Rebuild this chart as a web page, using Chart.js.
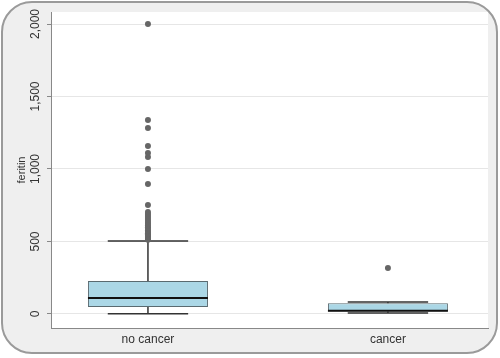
<!DOCTYPE html>
<html>
<head>
<meta charset="utf-8">
<script src="https://cdn.jsdelivr.net/npm/chart.js@4.4.1/dist/chart.umd.min.js"></script>
<style>
  html, body { margin: 0; padding: 0; background: #fff; }
  #wrap { width: 500px; height: 358px; }
</style>
</head>
<body>
<div id="wrap"><canvas id="boxChart"></canvas></div>
<script>
// data
const categories = ['no cancer', 'cancer'];
const q1 = [48, 17];
const median = [110, 22];
const q3 = [228, 74];
const whiskerLo = [2, 7];
const whiskerHi = [503, 83];
const outliersNoCancer = [512, 518, 525, 532, 540, 548, 557, 566, 576, 587, 598, 610, 622, 635, 648, 662, 676, 690, 703, 752, 897, 1000, 1083, 1110, 1159, 1283, 1338, 2000];
const outliersCancer = [317];
const yTicks = [0, 500, 1000, 1500, 2000];

// groups sit at x = 1, 2 on a linear axis so the side margins can differ
const boxData = categories.map((c, i) => ({ x: i + 1, y: [q1[i], q3[i]] }));
const outlierPoints = [
  ...outliersNoCancer.map(v => ({ x: 1, y: v })),
  ...outliersCancer.map(v => ({ x: 2, y: v }))
];

// grey rounded frame + white plot region
const frame = {
  id: 'frame',
  beforeDraw(chart) {
    const { ctx, chartArea: a } = chart;
    ctx.save();
    ctx.beginPath();
    ctx.roundRect(2, 2, 495, 351, 30);
    ctx.fillStyle = '#efefef';
    ctx.fill();
    ctx.lineWidth = 2;
    ctx.strokeStyle = '#9a9a9a';
    ctx.stroke();
    ctx.fillStyle = '#fff';
    ctx.fillRect(a.left, a.top, a.right - a.left, a.bottom - a.top);
    ctx.restore();
  }
};

// whiskers behind the boxes, medians on top
const boxParts = {
  id: 'boxParts',
  beforeDatasetsDraw(chart) {
    const { ctx } = chart;
    const y = chart.scales.y;
    const meta = chart.getDatasetMeta(0);
    ctx.save();
    ctx.strokeStyle = '#333';
    ctx.lineWidth = 1.5;
    meta.data.forEach((bar, i) => {
      const cap = bar.width * 0.335;
      ctx.beginPath();
      ctx.moveTo(bar.x, y.getPixelForValue(whiskerHi[i]));
      ctx.lineTo(bar.x, y.getPixelForValue(q3[i]));
      ctx.moveTo(bar.x, y.getPixelForValue(q1[i]));
      ctx.lineTo(bar.x, y.getPixelForValue(whiskerLo[i]));
      ctx.moveTo(bar.x - cap, y.getPixelForValue(whiskerHi[i]));
      ctx.lineTo(bar.x + cap, y.getPixelForValue(whiskerHi[i]));
      ctx.moveTo(bar.x - cap, y.getPixelForValue(whiskerLo[i]));
      ctx.lineTo(bar.x + cap, y.getPixelForValue(whiskerLo[i]));
      ctx.stroke();
    });
    ctx.restore();
  },
  afterDatasetsDraw(chart) {
    const { ctx } = chart;
    const y = chart.scales.y;
    const meta = chart.getDatasetMeta(0);
    ctx.save();
    ctx.strokeStyle = '#111';
    ctx.lineWidth = 2;
    meta.data.forEach((bar, i) => {
      const py = y.getPixelForValue(median[i]);
      ctx.beginPath();
      ctx.moveTo(bar.x - bar.width / 2, py);
      ctx.lineTo(bar.x + bar.width / 2, py);
      ctx.stroke();
    });
    ctx.restore();
  }
};

const ctx = document.getElementById('boxChart');
new Chart(ctx, {
  type: 'bar',
  data: {
    datasets: [
      {
        label: 'box',
        data: boxData,
        backgroundColor: '#abd7e6',
        borderColor: '#5a6a70',
        borderWidth: 1,
        borderSkipped: false,
        barPercentage: 0.5,
        categoryPercentage: 1,
        order: 2
      },
      {
        type: 'line',
        label: 'outliers',
        data: outlierPoints,
        showLine: false,
        pointRadius: 3,
        pointBackgroundColor: '#666',
        pointBorderWidth: 0,
        order: 1
      }
    ]
  },
  options: {
    responsive: true,
    maintainAspectRatio: false,
    animation: false,
    layout: { padding: { top: 12, right: 12, left: 0, bottom: 0 } },
    plugins: { legend: { display: false }, tooltip: { enabled: false } },
    scales: {
      x: {
        type: 'linear',
        min: 0.596,
        max: 2.417,
        offset: false,
        afterBuildTicks: s => { s.ticks = categories.map((c, i) => ({ value: i + 1 })); },
        grid: { display: false, drawTicks: false, tickLength: 0 },
        border: { display: true, color: '#888', width: 1 },
        ticks: {
          color: '#333',
          font: { family: 'Liberation Sans', size: 12 },
          padding: 4,
          callback: v => categories[v - 1]
        },
        afterFit: s => { s.height = 30; }
      },
      y: {
        min: -97,
        max: 2083,
        afterBuildTicks: s => { s.ticks = yTicks.map(v => ({ value: v })); },
        grid: { color: '#e6e6e6', tickColor: '#888', tickLength: 4, drawTicks: true },
        border: { display: true, color: '#888', width: 1 },
        ticks: {
          color: '#333',
          font: { family: 'Liberation Sans', size: 12 },
          minRotation: 90,
          maxRotation: 90,
          crossAlign: 'center',
          padding: -4,
          callback: v => v.toLocaleString('en-US')
        },
        title: {
          display: true,
          text: 'feritin',
          color: '#333',
          font: { family: 'Liberation Sans', size: 11 },
          padding: { top: 15, bottom: 0 }
        },
        afterFit: s => { s.width = 51; }
      }
    }
  },
  plugins: [frame, boxParts]
});
</script>
</body>
</html>
